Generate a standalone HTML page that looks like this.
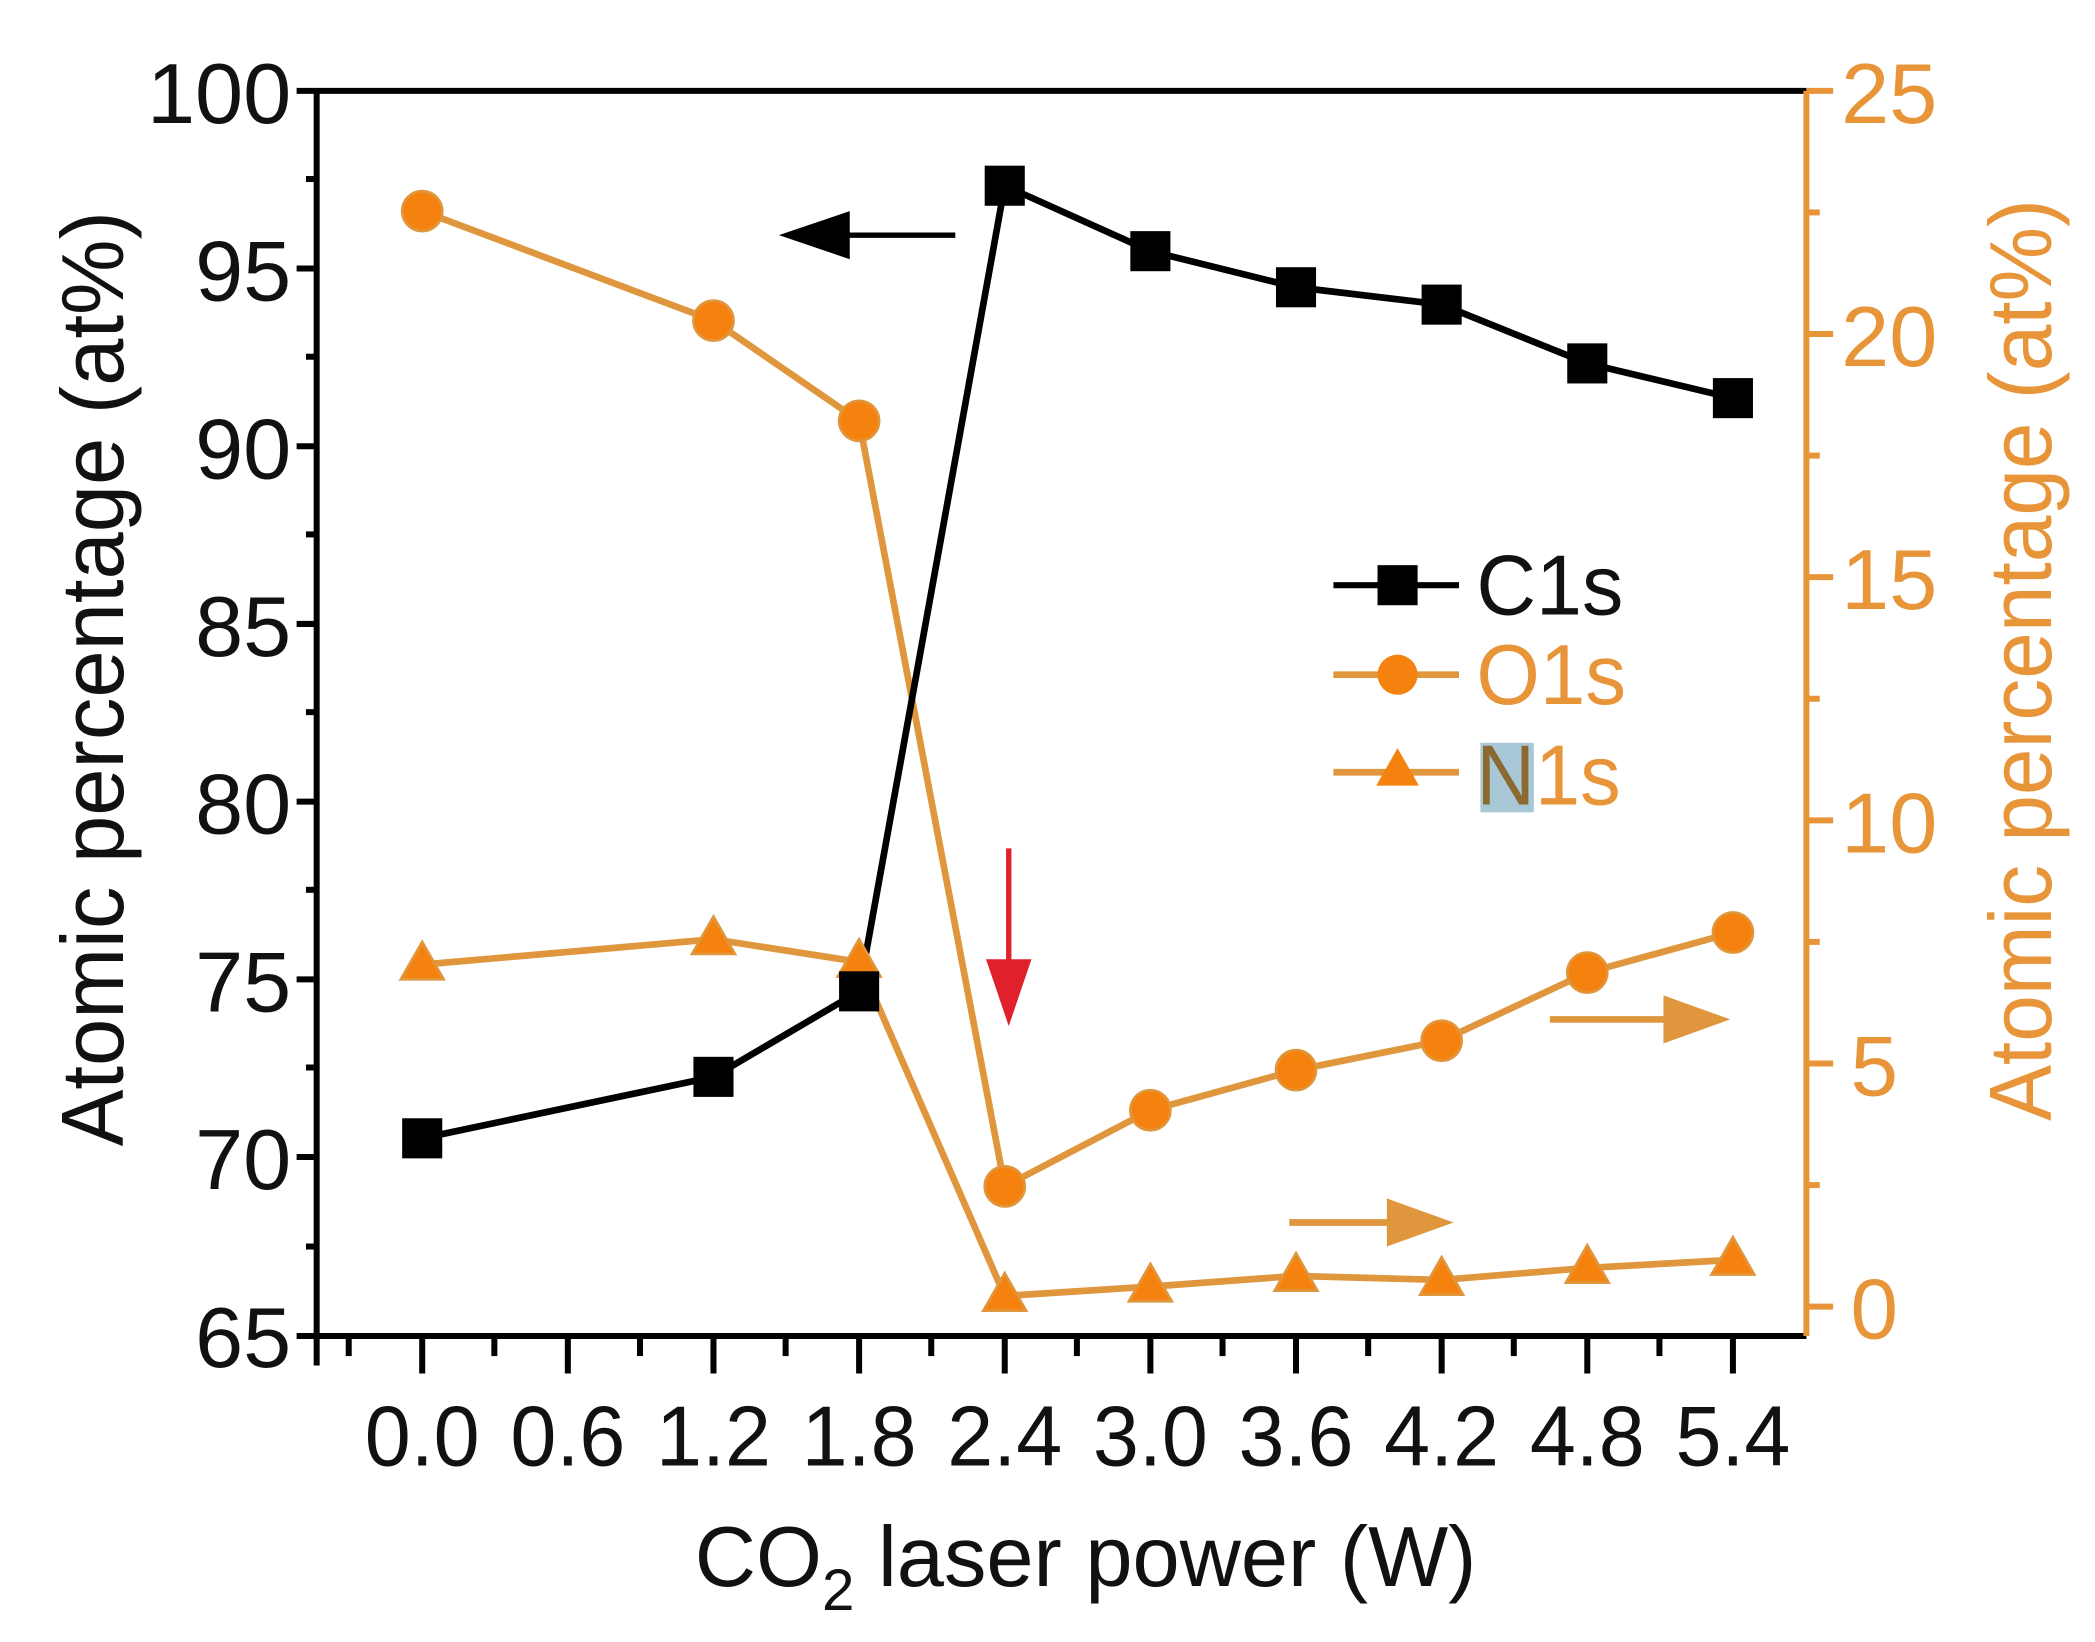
<!DOCTYPE html>
<html><head><meta charset="utf-8"><style>
html,body{margin:0;padding:0;background:#fff;}
svg{display:block;}
</style></head><body>
<svg width="2095" height="1642" viewBox="0 0 1568 1229" preserveAspectRatio="none" xmlns="http://www.w3.org/2000/svg" font-family="'Liberation Sans', sans-serif">
<rect width="1568" height="1229" fill="#fff"/>
<g stroke="#000" stroke-width="4.5" fill="none">
<line x1="237" y1="68" x2="1352" y2="68"/>
<line x1="237" y1="66" x2="237" y2="1022"/>
<line x1="222" y1="1000" x2="1352" y2="1000"/>
<line x1="222" y1="68" x2="237" y2="68"/>
<line x1="222" y1="201" x2="237" y2="201"/>
<line x1="222" y1="334" x2="237" y2="334"/>
<line x1="222" y1="467" x2="237" y2="467"/>
<line x1="222" y1="600" x2="237" y2="600"/>
<line x1="222" y1="733" x2="237" y2="733"/>
<line x1="222" y1="866" x2="237" y2="866"/>
<line x1="229" y1="134" x2="237" y2="134"/>
<line x1="229" y1="267" x2="237" y2="267"/>
<line x1="229" y1="400" x2="237" y2="400"/>
<line x1="229" y1="533" x2="237" y2="533"/>
<line x1="229" y1="666" x2="237" y2="666"/>
<line x1="229" y1="799" x2="237" y2="799"/>
<line x1="229" y1="933" x2="237" y2="933"/>
<line x1="316" y1="1000" x2="316" y2="1028"/>
<line x1="425" y1="1000" x2="425" y2="1028"/>
<line x1="534" y1="1000" x2="534" y2="1028"/>
<line x1="643" y1="1000" x2="643" y2="1028"/>
<line x1="752" y1="1000" x2="752" y2="1028"/>
<line x1="861" y1="1000" x2="861" y2="1028"/>
<line x1="970" y1="1000" x2="970" y2="1028"/>
<line x1="1079" y1="1000" x2="1079" y2="1028"/>
<line x1="1188" y1="1000" x2="1188" y2="1028"/>
<line x1="1297" y1="1000" x2="1297" y2="1028"/>
<line x1="261" y1="1000" x2="261" y2="1015"/>
<line x1="370" y1="1000" x2="370" y2="1015"/>
<line x1="479" y1="1000" x2="479" y2="1015"/>
<line x1="588" y1="1000" x2="588" y2="1015"/>
<line x1="697" y1="1000" x2="697" y2="1015"/>
<line x1="806" y1="1000" x2="806" y2="1015"/>
<line x1="915" y1="1000" x2="915" y2="1015"/>
<line x1="1024" y1="1000" x2="1024" y2="1015"/>
<line x1="1133" y1="1000" x2="1133" y2="1015"/>
<line x1="1242" y1="1000" x2="1242" y2="1015"/>
</g>
<g stroke="#E8953A" stroke-width="4.5" fill="none">
<line x1="1352" y1="68" x2="1352" y2="1000"/>
<line x1="1352" y1="68" x2="1372" y2="68"/>
<line x1="1352" y1="250" x2="1372" y2="250"/>
<line x1="1352" y1="432" x2="1372" y2="432"/>
<line x1="1352" y1="614" x2="1372" y2="614"/>
<line x1="1352" y1="796" x2="1372" y2="796"/>
<line x1="1352" y1="978" x2="1372" y2="978"/>
<line x1="1352" y1="159" x2="1362" y2="159"/>
<line x1="1352" y1="341" x2="1362" y2="341"/>
<line x1="1352" y1="523" x2="1362" y2="523"/>
<line x1="1352" y1="705" x2="1362" y2="705"/>
<line x1="1352" y1="887" x2="1362" y2="887"/>
</g>
<g font-size="64" fill="#111" text-anchor="end">
<text x="218" y="92" textLength="108" lengthAdjust="spacingAndGlyphs">100</text>
<text x="218" y="225" textLength="72" lengthAdjust="spacingAndGlyphs">95</text>
<text x="218" y="358" textLength="72" lengthAdjust="spacingAndGlyphs">90</text>
<text x="218" y="491" textLength="72" lengthAdjust="spacingAndGlyphs">85</text>
<text x="218" y="624" textLength="72" lengthAdjust="spacingAndGlyphs">80</text>
<text x="218" y="757" textLength="72" lengthAdjust="spacingAndGlyphs">75</text>
<text x="218" y="890" textLength="72" lengthAdjust="spacingAndGlyphs">70</text>
<text x="218" y="1023" textLength="72" lengthAdjust="spacingAndGlyphs">65</text>
</g>
<g font-size="64" fill="#E8953A" text-anchor="start">
<text x="1378" y="92" textLength="72" lengthAdjust="spacingAndGlyphs">25</text>
<text x="1378" y="274" textLength="72" lengthAdjust="spacingAndGlyphs">20</text>
<text x="1378" y="456" textLength="72" lengthAdjust="spacingAndGlyphs">15</text>
<text x="1378" y="638" textLength="72" lengthAdjust="spacingAndGlyphs">10</text>
<text x="1385" y="820">5</text>
<text x="1385" y="1002">0</text>
</g>
<g font-size="64" fill="#111" text-anchor="middle">
<text x="316" y="1097" textLength="86" lengthAdjust="spacingAndGlyphs">0.0</text>
<text x="425" y="1097" textLength="86" lengthAdjust="spacingAndGlyphs">0.6</text>
<text x="534" y="1097" textLength="86" lengthAdjust="spacingAndGlyphs">1.2</text>
<text x="643" y="1097" textLength="86" lengthAdjust="spacingAndGlyphs">1.8</text>
<text x="752" y="1097" textLength="86" lengthAdjust="spacingAndGlyphs">2.4</text>
<text x="861" y="1097" textLength="86" lengthAdjust="spacingAndGlyphs">3.0</text>
<text x="970" y="1097" textLength="86" lengthAdjust="spacingAndGlyphs">3.6</text>
<text x="1079" y="1097" textLength="86" lengthAdjust="spacingAndGlyphs">4.2</text>
<text x="1188" y="1097" textLength="86" lengthAdjust="spacingAndGlyphs">4.8</text>
<text x="1297" y="1097" textLength="86" lengthAdjust="spacingAndGlyphs">5.4</text>
</g>
<text x="520" y="1187" font-size="64" fill="#111" textLength="585" lengthAdjust="spacingAndGlyphs">CO<tspan font-size="44" dy="18">2</tspan><tspan dy="-18"> laser power (W)</tspan></text>
<text transform="translate(92,508) rotate(-90)" font-size="66" fill="#111" text-anchor="middle" textLength="700" lengthAdjust="spacingAndGlyphs">Atomic percentage (at%)</text>
<text transform="translate(1535,494) rotate(-90)" font-size="66" fill="#E8953A" text-anchor="middle" textLength="690" lengthAdjust="spacingAndGlyphs">Atomic percentage (at%)</text>
<g fill="none" stroke-width="5" stroke-linejoin="round">
<polyline stroke="#E0963C" points="316,158 534,240 643,315 752,888 861,831 970,801 1079,779 1188,728 1297,698"/>
<polyline stroke="#E0963C" points="316,722 534,703 643,720 752,970 861,963 970,955 1079,958 1188,949 1297,943"/>
<polyline stroke="#000" points="316,852 534,806 643,742 752,139 861,188 970,215 1079,228 1188,272 1297,298"/>
</g>
<g fill="#F5820F" stroke="#E0963C" stroke-width="2">
<circle cx="316" cy="158" r="15"/><circle cx="534" cy="240" r="15"/><circle cx="643" cy="315" r="15"/>
<circle cx="752" cy="888" r="15"/><circle cx="861" cy="831" r="15"/><circle cx="970" cy="801" r="15"/>
<circle cx="1079" cy="779" r="15"/><circle cx="1188" cy="728" r="15"/><circle cx="1297" cy="698" r="15"/>
</g>
<g fill="#F5820F" stroke="#E0963C" stroke-width="2">
<polygon points="316,705 332,733 300,733"/><polygon points="534,686 550,714 518,714"/><polygon points="643,703 659,731 627,731"/>
<polygon points="752,953 768,981 736,981"/><polygon points="861,946 877,974 845,974"/><polygon points="970,938 986,966 954,966"/>
<polygon points="1079,941 1095,969 1063,969"/><polygon points="1188,932 1204,960 1172,960"/><polygon points="1297,926 1313,954 1281,954"/>
</g>
<g fill="#000">
<rect x="301" y="837" width="30" height="30"/><rect x="519" y="791" width="30" height="30"/><rect x="628" y="727" width="30" height="30"/>
<rect x="737" y="124" width="30" height="30"/><rect x="846" y="173" width="30" height="30"/><rect x="955" y="200" width="30" height="30"/>
<rect x="1064" y="213" width="30" height="30"/><rect x="1173" y="257" width="30" height="30"/><rect x="1282" y="283" width="30" height="30"/>
</g>
<line x1="715" y1="176" x2="630" y2="176" stroke="#000" stroke-width="4"/>
<polygon points="583,176 636,158 636,194" fill="#000"/>
<line x1="1160" y1="763" x2="1250" y2="763" stroke="#E0963C" stroke-width="5"/>
<polygon points="1295,763 1245,745 1245,781" fill="#E0963C"/>
<line x1="965" y1="915" x2="1045" y2="915" stroke="#E0963C" stroke-width="5"/>
<polygon points="1088,915 1038,897 1038,933" fill="#E0963C"/>
<line x1="755" y1="635" x2="755" y2="725" stroke="#E0202A" stroke-width="4"/>
<polygon points="755,768 738,718 772,718" fill="#E0202A"/>
<line x1="998" y1="438" x2="1092" y2="438" stroke="#000" stroke-width="4.5"/>
<rect x="1031" y="423" width="30" height="30" fill="#000"/>
<text x="1105" y="460" font-size="64" fill="#111" textLength="110" lengthAdjust="spacingAndGlyphs">C1s</text>
<line x1="998" y1="505" x2="1092" y2="505" stroke="#E0963C" stroke-width="5"/>
<circle cx="1046" cy="505" r="15" fill="#F5820F"/>
<text x="1105" y="527" font-size="64" fill="#E8953A" textLength="112" lengthAdjust="spacingAndGlyphs">O1s</text>
<line x1="998" y1="578" x2="1092" y2="578" stroke="#E0963C" stroke-width="5"/>
<polygon points="1046,560 1062,588 1030,588" fill="#F5820F"/>
<rect x="1108" y="556" width="40" height="52" fill="#A8C8D8"/>
<text x="1105" y="602" font-size="64" fill="#8a6a30" textLength="108" lengthAdjust="spacingAndGlyphs">N<tspan fill="#E8953A">1s</tspan></text>
</svg>
</body></html>
